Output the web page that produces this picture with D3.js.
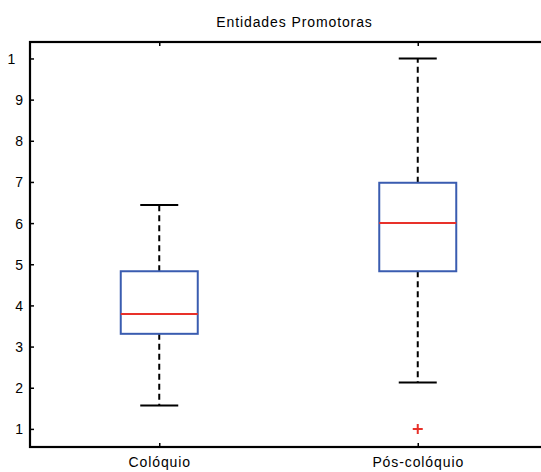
<!DOCTYPE html>
<html>
<head>
<meta charset="utf-8">
<script src="https://cdn.jsdelivr.net/npm/d3@7"></script>
<style>
  html, body { margin: 0; padding: 0; background: #fff; }
  svg { display: block; }
  text { font-family: "Liberation Sans", Arial, Helvetica, sans-serif; fill: #000; }
</style>
</head>
<body>
<svg id="chart" width="541" height="472"></svg>
<script>
// Box plot statistics per group
const categories = ["Colóquio", "Pós-colóquio"];
const whiskerLow  = [1.57, 2.13];
const quartile1   = [3.31, 4.83];
const medians     = [3.79, 6.0];
const quartile3   = [4.83, 6.98];
const whiskerHigh = [6.44, 10.0];
const outliers    = [[], [1.0]];
const yTicks      = [1, 2, 3, 4, 5, 6, 7, 8, 9, 10];
const title       = "Entidades Promotoras";

const svg = d3.select("#chart");
const plotLeft = 30, plotRight = 547, plotTop = 42, plotBottom = 447;

const x = d3.scaleLinear().domain([0.5, 2.5]).range([plotLeft, plotRight]);
const y = d3.scaleLinear().domain([0.56, 10.4]).range([plotBottom, plotTop]);

const blue = "#3a5cb0", red = "#e8312a";
const boxHalf = 38.5, capHalf = 19;

// Axes frame
svg.append("rect")
  .attr("x", plotLeft).attr("y", plotTop)
  .attr("width", plotRight - plotLeft).attr("height", plotBottom - plotTop)
  .attr("fill", "none").attr("stroke", "#000").attr("stroke-width", 2.2);

// Y axis ticks and labels (ticks point inward)
const yAxis = d3.axisRight(y).tickValues(yTicks).tickSize(4).tickFormat(d3.format("d"));
const yG = svg.append("g").attr("transform", `translate(${plotLeft},0)`).call(yAxis);
yG.select(".domain").remove();
yG.selectAll(".tick line").attr("stroke", "#000").attr("stroke-width", 1.5);
yG.selectAll(".tick text")
  .attr("x", -7).attr("dy", "0.36em")
  .attr("text-anchor", "end")
  .style("font-size", "14px")
  .style("font-family", "'Liberation Sans', Arial, sans-serif");
// The two-digit label is clipped to its first digit
yG.selectAll(".tick text").filter(d => d >= 10).each(function(d) {
  const t = d3.select(this);
  const s = String(d);
  t.text(null);
  t.append("tspan").text(s[0]);
  t.append("tspan").text(s.slice(1)).attr("fill-opacity", 0);
});

// X axis: bottom ticks inward, labels below
const xAxis = d3.axisTop(x).tickValues([1, 2]).tickSize(4).tickFormat((d, i) => categories[i]);
const xG = svg.append("g").attr("transform", `translate(0,${plotBottom})`).call(xAxis);
xG.select(".domain").remove();
xG.selectAll(".tick line").attr("stroke", "#000").attr("stroke-width", 1.5);
xG.selectAll(".tick text")
  .attr("y", 20).attr("dy", "0")
  .style("font-size", "14px")
  .style("letter-spacing", "0.9px")
  .style("font-family", "'Liberation Sans', Arial, sans-serif");

// Top ticks pointing down
const xTop = d3.axisBottom(x).tickValues([1, 2]).tickSize(4).tickFormat("");
const xTG = svg.append("g").attr("transform", `translate(0,${plotTop})`).call(xTop);
xTG.select(".domain").remove();
xTG.selectAll(".tick line").attr("stroke", "#000").attr("stroke-width", 1.5);

// Boxes
const groups = svg.append("g").selectAll("g")
  .data(categories.map((c, i) => ({
    pos: i + 1, lo: whiskerLow[i], q1: quartile1[i], med: medians[i],
    q3: quartile3[i], hi: whiskerHigh[i], out: outliers[i]
  })))
  .join("g");

// Dashed whiskers
groups.append("line")
  .attr("x1", d => x(d.pos)).attr("x2", d => x(d.pos))
  .attr("y1", d => y(d.q3)).attr("y2", d => y(d.hi))
  .attr("stroke", "#000").attr("stroke-width", 2).attr("stroke-dasharray", "6,4");
groups.append("line")
  .attr("x1", d => x(d.pos)).attr("x2", d => x(d.pos))
  .attr("y1", d => y(d.q1)).attr("y2", d => y(d.lo))
  .attr("stroke", "#000").attr("stroke-width", 2).attr("stroke-dasharray", "6,4");

// Whisker caps
["hi", "lo"].forEach(k => {
  groups.append("line")
    .attr("x1", d => x(d.pos) - capHalf).attr("x2", d => x(d.pos) + capHalf)
    .attr("y1", d => y(d[k])).attr("y2", d => y(d[k]))
    .attr("stroke", "#000").attr("stroke-width", 2);
});

// Interquartile box
groups.append("rect")
  .attr("x", d => x(d.pos) - boxHalf)
  .attr("y", d => y(d.q3))
  .attr("width", boxHalf * 2)
  .attr("height", d => y(d.q1) - y(d.q3))
  .attr("fill", "none").attr("stroke", blue).attr("stroke-width", 2);

// Median
groups.append("line")
  .attr("x1", d => x(d.pos) - boxHalf).attr("x2", d => x(d.pos) + boxHalf)
  .attr("y1", d => y(d.med)).attr("y2", d => y(d.med))
  .attr("stroke", red).attr("stroke-width", 2);

// Outliers as red plus signs
groups.each(function(d) {
  const g = d3.select(this);
  d.out.forEach(v => {
    g.append("path")
      .attr("d", `M${x(d.pos) - 5},${y(v)}h10M${x(d.pos)},${y(v) - 5}v10`)
      .attr("stroke", red).attr("stroke-width", 2).attr("fill", "none");
  });
});

// Title
svg.append("text")
  .attr("x", (plotLeft + plotRight) / 2 + 6).attr("y", 27)
  .attr("text-anchor", "middle")
  .style("font-size", "14px")
  .style("letter-spacing", "0.9px")
  .text(title);
</script>
</body>
</html>
